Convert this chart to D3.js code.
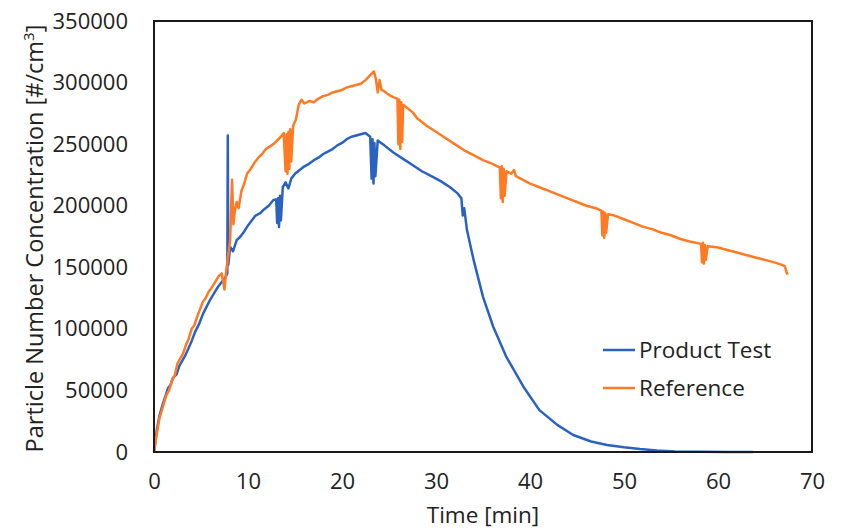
<!DOCTYPE html>
<html>
<head>
<meta charset="utf-8">
<script src="https://cdn.jsdelivr.net/npm/d3@7"></script>
<style>
  body { margin: 0; background: #fff; }
  text { font-family: "Open Sans", sans-serif; fill: #222; }
</style>
</head>
<body>
<div id="chart"></div>
<script>
// time [min] and concentration [#/cm3]
const productTime = [0, 0.3, 0.6, 0.9, 1.2, 1.5, 1.8, 2.0, 2.4, 2.7, 3.0, 3.3, 3.6, 4.0, 4.4, 4.8, 5.2, 5.6, 6.0, 6.4, 6.8, 7.2, 7.6, 7.8, 7.85, 7.9, 8.1, 8.4, 8.8, 9.2, 9.5, 10.0, 10.4, 10.8, 11.3, 11.7, 12.2, 12.7, 13.0, 13.1, 13.2, 13.3, 13.4, 13.5, 13.7, 14.0, 14.3, 14.6, 15.0, 15.5, 16.0, 16.5, 17.0, 17.5, 18.0, 18.5, 19.0, 19.5, 20.0, 20.5, 21.0, 21.5, 22.0, 22.5, 23.0, 23.15, 23.25, 23.35, 23.45, 23.55, 23.8, 24.5, 25.5, 26.5, 27.5, 28.5, 29.5, 30.5, 31.5, 32.3, 32.7, 32.85, 33.0, 33.3, 34.0, 35.0, 36.1, 37.5, 39.3, 41.0, 42.9, 44.6, 46.5, 48.2, 50.0, 51.7, 53.5, 55.4, 58.0, 61.0, 63.7];
const productValue = [0, 18000, 30000, 38000, 45000, 52000, 55000, 60000, 63000, 70000, 74000, 78000, 83000, 90000, 98000, 104000, 112000, 118000, 124000, 129000, 134000, 138000, 142000, 145000, 257000, 152000, 166500, 163000, 172000, 175000, 178000, 184000, 188000, 192000, 194000, 197000, 200000, 204600, 205000, 186000, 206000, 182700, 208000, 188000, 215000, 219000, 214000, 222000, 226000, 229000, 232000, 234000, 237000, 239000, 242000, 244000, 246000, 249000, 251000, 254000, 256000, 257000, 258000, 259000, 256000, 222000, 254000, 218000, 251000, 224000, 253000, 249000, 243000, 238000, 233000, 228000, 224000, 220000, 215000, 210000, 206000, 192000, 198000, 180000, 156000, 126000, 101500, 77000, 53000, 34000, 22000, 13800, 8500, 5700, 3800, 2400, 1300, 500, 150, 0, 0];

const referenceTime = [0, 0.3, 0.6, 1.0, 1.3, 1.6, 1.9, 2.2, 2.5, 2.8, 3.1, 3.4, 3.7, 4.0, 4.3, 4.6, 4.9, 5.2, 5.5, 5.8, 6.1, 6.5, 6.9, 7.2, 7.5, 7.7, 7.9, 8.1, 8.3, 8.45, 8.6, 8.8, 9.0, 9.3, 9.6, 9.9, 10.3, 10.7, 11.1, 11.5, 11.9, 12.3, 12.7, 13.1, 13.5, 13.8, 14.0, 14.1, 14.2, 14.3, 14.4, 14.5, 14.6, 14.8, 15.1, 15.4, 15.7, 16.0, 16.5, 17.0, 17.5, 18.0, 18.5, 19.0, 19.5, 20.0, 20.5, 21.0, 21.5, 22.0, 22.5, 23.0, 23.4, 23.6, 23.8, 24.0, 24.2, 24.5, 25.0, 25.5, 25.9, 26.0, 26.1, 26.2, 26.3, 26.4, 26.5, 27.0, 27.5, 28.0, 29.0, 30.0, 31.0, 32.0, 33.0, 34.0, 35.0, 36.0, 36.8, 36.9, 37.0, 37.1, 37.2, 37.3, 37.5, 38.0, 38.3, 38.5, 39.0, 40.0, 41.0, 42.0, 43.0, 44.0, 45.0, 46.0, 47.0, 47.6, 47.7, 47.8, 47.9, 48.0, 48.1, 48.3, 49.0, 50.0, 51.0, 52.0, 53.0, 54.0, 55.0, 56.0, 57.0, 58.2, 58.3, 58.4, 58.5, 58.6, 58.7, 58.9, 60.0, 61.0, 62.0, 63.0, 64.0, 65.0, 66.0, 66.8, 67.1, 67.3, 67.4];
const referenceValue = [0, 15000, 28000, 38000, 46000, 50000, 58000, 62000, 72000, 76000, 80000, 87000, 92000, 100000, 103000, 110000, 116000, 122000, 125000, 130000, 133000, 138000, 143000, 145000, 132000, 148000, 160000, 172000, 221000, 185000, 196000, 203000, 198000, 212000, 218000, 226000, 230000, 235000, 239000, 242000, 246000, 248000, 250000, 253000, 256000, 259000, 228000, 258000, 226000, 260000, 230000, 262000, 236000, 265000, 270000, 282000, 286000, 283000, 285000, 284000, 287000, 289000, 290000, 292000, 293000, 294000, 296000, 297000, 298000, 299000, 302000, 306000, 309000, 303000, 292000, 302000, 294000, 293000, 290000, 288000, 287000, 250000, 286000, 246000, 284000, 252000, 282000, 279000, 276000, 271000, 265000, 260000, 255000, 250000, 245000, 241000, 237000, 234000, 231000, 206000, 232000, 203000, 230000, 208000, 228000, 226000, 229000, 224000, 222000, 218000, 215000, 212000, 209000, 206000, 203000, 200000, 198000, 196000, 176000, 195000, 174000, 194000, 178000, 193000, 192000, 189000, 186000, 183000, 181000, 178000, 176000, 173000, 171000, 169000, 154000, 170000, 153000, 168000, 156000, 167000, 166000, 164000, 162000, 160000, 158000, 156000, 154000, 152000, 151000, 146000, 144000];

const xTicks = [0, 10, 20, 30, 40, 50, 60, 70];
const yTicks = [0, 50000, 100000, 150000, 200000, 250000, 300000, 350000];
const seriesNames = ["Product Test", "Reference"];
const seriesColors = ["#2a62c2", "#ff7a22"];

const width = 846;
const height = 532;
const margin = {top: 21, right: 34, bottom: 80, left: 154};
const plotW = width - margin.left - margin.right;
const plotH = height - margin.top - margin.bottom;

const svg = d3.select("#chart")
    .append("svg")
    .attr("width", width)
    .attr("height", height);

const g = svg.append("g")
    .attr("transform", `translate(${margin.left},${margin.top})`);

const xScale = d3.scaleLinear().domain([0, 70]).range([0, plotW]);
const yScale = d3.scaleLinear().domain([0, 350000]).range([plotH, 0]);

// axes (labels only, no tick marks)
const xAxis = g.append("g")
    .attr("transform", `translate(0,${plotH})`)
    .call(d3.axisBottom(xScale).tickValues(xTicks).tickFormat(d3.format("d")).tickSize(0).tickPadding(21));
const yAxis = g.append("g")
    .call(d3.axisLeft(yScale).tickValues(yTicks).tickFormat(d3.format("d")).tickSize(0).tickPadding(26));
[xAxis, yAxis].forEach(a => {
    a.select(".domain").remove();
    a.selectAll("text")
        .attr("font-family", "Open Sans, sans-serif")
        .attr("font-size", 22)
        .attr("fill", "#222");
});

// series
const line = d3.line()
    .x(d => xScale(d[0]))
    .y(d => yScale(d[1]));

const series = [
    d3.zip(productTime, productValue),
    d3.zip(referenceTime, referenceValue)
];

g.selectAll(".series")
    .data(series)
    .enter()
    .append("path")
    .attr("class", "series")
    .attr("d", line)
    .attr("fill", "none")
    .attr("stroke", (d, i) => seriesColors[i])
    .attr("stroke-width", 2.5)
    .attr("stroke-linejoin", "round");

// plot frame
g.append("rect")
    .attr("width", plotW)
    .attr("height", plotH)
    .attr("fill", "none")
    .attr("stroke", "#1a1a1a")
    .attr("stroke-width", 2);

// legend
const legend = g.selectAll(".legend")
    .data(seriesNames)
    .enter()
    .append("g")
    .attr("class", "legend")
    .attr("transform", (d, i) => `translate(449,${329 + i * 38})`);

legend.append("line")
    .attr("x1", 0)
    .attr("x2", 32)
    .attr("stroke", (d, i) => seriesColors[i])
    .attr("stroke-width", 2.5);

legend.append("text")
    .attr("x", 36)
    .attr("dy", "0.35em")
    .attr("font-size", 22.5)
    .text(d => d);

// axis titles
svg.append("text")
    .attr("x", margin.left + plotW / 2)
    .attr("y", 523)
    .attr("text-anchor", "middle")
    .attr("font-size", 22.5)
    .text("Time [min]");

const yTitle = svg.append("text")
    .attr("transform", `translate(43,${margin.top + plotH / 2 + 2}) rotate(-90)`)
    .attr("text-anchor", "middle")
    .attr("font-size", 23.5);
yTitle.append("tspan").text("Particle Number Concentration [#/cm");
yTitle.append("tspan").attr("font-size", 15).attr("dy", "-0.6em").text("3");
yTitle.append("tspan").attr("dy", "0.4em").text("]");
</script>
</body>
</html>
